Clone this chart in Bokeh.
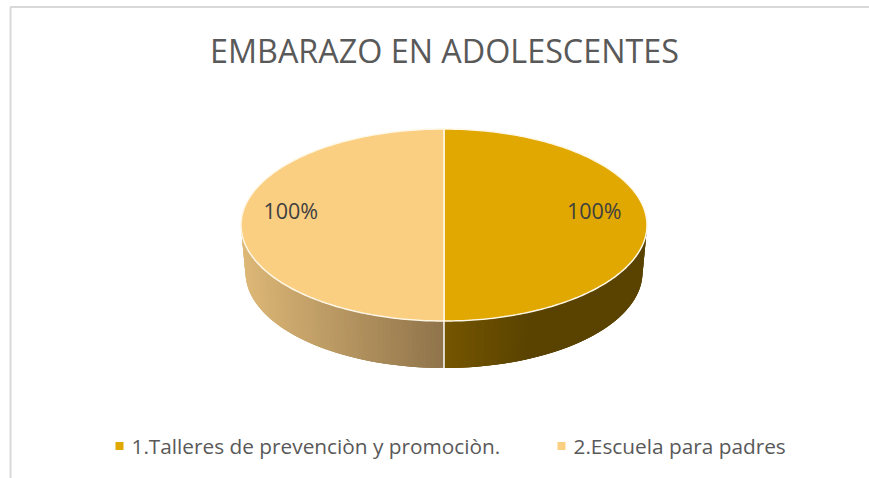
import numpy as np
from bokeh.plotting import figure
from bokeh.models import Range1d
from bokeh.core.properties import value
from bokeh.embed import file_html
from bokeh.resources import INLINE

title = "EMBARAZO EN ADOLESCENTES"
categories = ["1.Talleres de prevenciòn y promociòn.", "2.Escuela para padres"]
shares = [1.0, 1.0]
share_labels = ["100%", "100%"]
top_colors = ["#E0A800", "#FBCF82"]

W, H = 869, 478
CX, CY, RX, RY = 443.5, 224.5, 203.0, 96.0
BX, BY, BRX, BRY = 443.5, 272.0, 198.5, 95.5


def hex_rgb(c):
    return np.array([int(c[i:i + 2], 16) for i in (1, 3, 5)], float)


def mix(a, b, f):
    v = hex_rgb(a) * (1 - f) + hex_rgb(b) * f
    return "#%02x%02x%02x" % tuple(int(round(x)) for x in v)


side_ramps = [[("#755600", 0.0), ("#5A4300", 0.42), ("#5A4300", 1.0)],
              [("#8F734A", 0.0), ("#DDB877", 1.0)]]


def ramp(stops, f):
    for (c0, f0), (c1, f1) in zip(stops, stops[1:]):
        if f <= f1:
            return mix(c0, c1, (f - f0) / (f1 - f0))
    return stops[-1][0]


p = figure(width=W, height=H, output_backend="svg", toolbar_location=None,
           x_range=Range1d(0, W), y_range=Range1d(H, 0),
           min_border=0, outline_line_color=None, background_fill_color="white")
p.axis.visible = False
p.grid.visible = False

# frame of the chart area
p.line([10, 10, W], [H, 6.5, 6.5], line_color="#D9D9D9", line_width=2)

# slice angles from the values, clockwise from 12 o'clock
fracs = np.array(shares) / np.sum(shares)
edges = -np.pi / 2 + 2 * np.pi * np.concatenate([[0], np.cumsum(fracs)])

# side wall: only the front half of the rim (0..pi) is visible
for k in range(len(shares)):
    a0, a1 = max(edges[k], 0.0), min(edges[k + 1], np.pi)
    if a1 <= a0:
        continue
    t = np.linspace(a0, a1, 71)
    xs, ys, cols = [], [], []
    x_far = CX + (RX if k == 0 else -RX)
    for i in range(len(t) - 1):
        t0, t1 = t[i], t[min(i + 3, len(t) - 1)]
        tc = (t[i] + t[i + 1]) / 2
        xs.append([CX + RX * np.cos(t0), CX + RX * np.cos(t1), BX + BRX * np.cos(t1), BX + BRX * np.cos(t0)])
        ys.append([CY + RY * np.sin(t0), CY + RY * np.sin(t1), BY + BRY * np.sin(t1), BY + BRY * np.sin(t0)])
        xm = CX + RX * np.cos(tc)
        cols.append(ramp(side_ramps[k], (xm - CX) / (x_far - CX)))
    p.patches(xs, ys, fill_color=cols, line_color=None)

# separator on the side wall
p.line([CX, BX], [CY + RY, BY + BRY], line_color="white", line_width=1.5)

# top face
for k in range(len(shares)):
    t = np.linspace(edges[k], edges[k + 1], 181)
    x = np.concatenate([[CX], CX + RX * np.cos(t)])
    y = np.concatenate([[CY], CY + RY * np.sin(t)])
    p.patch(x, y, fill_color=top_colors[k], line_color="#FFF8E8", line_width=1.5)

# data labels
mid = (edges[:-1] + edges[1:]) / 2
label_r = np.where(np.cos(mid) > 0, 0.74, 0.755) * RX
p.text(CX + label_r * np.cos(mid), np.full(len(mid), CY - 15), text=share_labels,
       text_font=value("Open Sans"), text_font_size="21.5px", text_color="#404040",
       text_align="center", text_baseline="middle")

# title
p.text([444], [49.5], text=[title], text_font=value("Open Sans"), text_font_size="32.3px",
       text_color="#595959", text_align="center", text_baseline="middle")

# legend
legend_x = [119, 561]
for lx, col, cat in zip(legend_x, top_colors, categories):
    p.scatter([lx], [445.5], marker="square", size=8, color=col, line_color=None)
    p.text([lx + 12], [445], text=[cat], text_font=value("Open Sans"), text_font_size="20.8px",
           text_color="#595959", text_align="left", text_baseline="middle")

open("out.html", "w").write(file_html(p, INLINE))
